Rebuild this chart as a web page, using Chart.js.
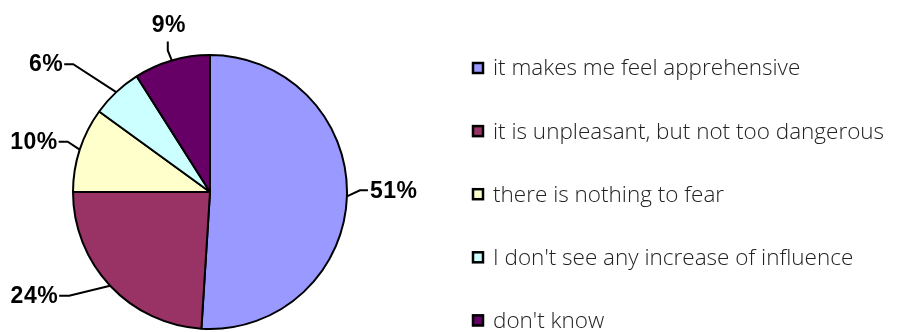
<!DOCTYPE html>
<html>
<head>
<meta charset="utf-8">
<script src="https://cdn.jsdelivr.net/npm/chart.js@4/dist/chart.umd.min.js"></script>
<style>
  html, body { margin: 0; padding: 0; background: #fff; }
  #wrap { width: 900px; height: 332px; position: relative; }
</style>
</head>
<body>
<div id="wrap"><canvas id="pieChart"></canvas></div>
<script>
// datos del gráfico
const categorias = [
  'it makes me feel apprehensive',
  'it is unpleasant, but not too dangerous',
  'there is nothing to fear',
  "I don't see any increase of influence",
  "don't know"
];
const porcentajes = [51, 24, 10, 6, 9];
const colores = ['#9999FF', '#993366', '#FFFFCC', '#CCFFFF', '#660066'];

// posición de las etiquetas respecto al borde del sector (codo + cola)
const etiquetaLayout = [
  { dx: 13, dy: -6, tx: 8, ty: 0, align: 'left' },
  { dx: -41, dy: 10, tx: -10, ty: 0, align: 'right' },
  { dx: -12, dy: -8, tx: -9, ty: 0, align: 'right' },
  { dx: -43, dy: -28, tx: -9, ty: 0, align: 'right' },
  { dx: -4, dy: -10, tx: 0, ty: -9, align: 'center' }
];

// Plugin de etiquetas con líneas guía
const etiquetasPlugin = {
  id: 'etiquetas',
  afterDatasetsDraw(chart) {
    const ctx = chart.ctx;
    const meta = chart.getDatasetMeta(0);
    ctx.save();
    ctx.strokeStyle = '#000';
    ctx.lineWidth = 2;
    ctx.fillStyle = '#000';
    ctx.font = 'bold 23px "Liberation Sans", Arial, sans-serif';
    ctx.letterSpacing = '0.5px';
    meta.data.forEach((arc, i) => {
      const p = arc.getProps(['x', 'y', 'startAngle', 'endAngle', 'outerRadius'], true);
      const mid = (p.startAngle + p.endAngle) / 2;
      const ex = p.x + p.outerRadius * Math.cos(mid);
      const ey = p.y + p.outerRadius * Math.sin(mid);
      const l = etiquetaLayout[i];
      const bx = ex + l.dx, by = ey + l.dy;
      const tx = bx + l.tx, ty = by + l.ty;
      ctx.beginPath();
      ctx.moveTo(ex, ey);
      ctx.lineTo(bx, by);
      ctx.lineTo(tx, ty);
      ctx.stroke();
      const txt = porcentajes[i] + '%';
      if (l.align === 'center') {
        ctx.textAlign = 'center';
        ctx.textBaseline = 'bottom';
        ctx.fillText(txt, tx + 1, ty - 4);
      } else {
        ctx.textAlign = l.align;
        ctx.textBaseline = 'middle';
        ctx.fillText(txt, tx + (l.align === 'left' ? 2 : -1), ty + 1);
      }
    });
    ctx.restore();
  }
};

// Plugin de leyenda a la derecha
const leyendaPlugin = {
  id: 'leyenda',
  afterDraw(chart) {
    const ctx = chart.ctx;
    ctx.save();
    ctx.font = '300 22.5px "Open Sans", sans-serif';
    ctx.textBaseline = 'middle';
    ctx.textAlign = 'left';
    chart.data.labels.forEach((lab, i) => {
      const cy = 68 + i * 63.1;
      ctx.fillStyle = colores[i];
      ctx.fillRect(472, cy - 6, 12, 12);
      ctx.strokeStyle = '#000';
      ctx.lineWidth = 2.5;
      ctx.strokeRect(473, cy - 5, 10, 10);
      ctx.fillStyle = '#222';
      ctx.fillText(lab, 493, cy + 1);
    });
    ctx.restore();
  }
};

const chartPie = new Chart(document.getElementById('pieChart'), {
  type: 'pie',
  data: {
    labels: categorias,
    datasets: [{
      data: porcentajes,
      backgroundColor: colores,
      borderColor: '#000',
      borderWidth: 2
    }]
  },
  options: {
    responsive: true,
    maintainAspectRatio: false,
    animation: false,
    layout: { padding: { left: 72, top: 54, right: 552, bottom: 2 } },
    plugins: {
      legend: { display: false },
      tooltip: { enabled: false }
    }
  },
  plugins: [etiquetasPlugin, leyendaPlugin]
});
</script>
</body>
</html>
